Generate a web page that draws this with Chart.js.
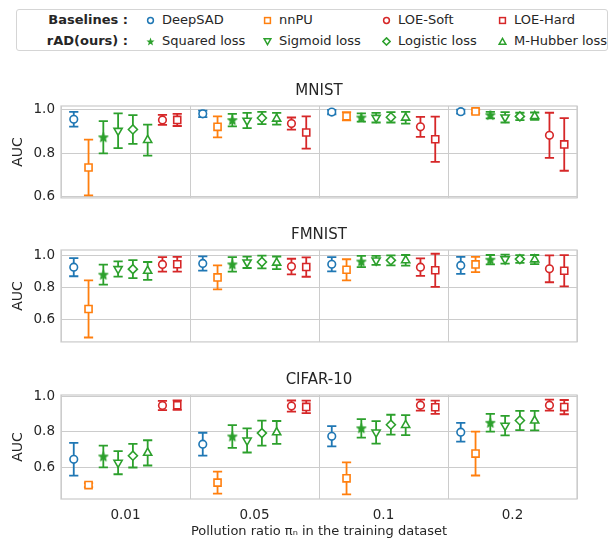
<!DOCTYPE html>
<html>
<head>
<meta charset="utf-8">
<script src="https://cdn.jsdelivr.net/npm/chart.js@4.4.0/dist/chart.umd.min.js"></script>
<style>
  body { margin: 0; background: #fff; width: 610px; height: 539px; position: relative; overflow: hidden;
         font-family: "DejaVu Sans", sans-serif; color: #262626; }
  canvas { position: absolute; left: 0; }
  #legend { position: absolute; left: 16px; top: 9px; width: 592px; height: 42px;
            border: 1px solid #d5d5d5; border-radius: 3px; box-sizing: border-box; }
  .lg { position: absolute; font-size: 13px; line-height: 16px; white-space: nowrap; }
  .hd { font-weight: bold; text-align: right; width: 100px; }
  .mk { position: absolute; width: 9px; height: 9px; }
</style>
</head>
<body>
<div id="legend"></div>
<canvas id="mnist" width="610" height="136" style="top:76px"></canvas>
<canvas id="fmnist" width="610" height="136" style="top:220px"></canvas>
<canvas id="cifar" width="610" height="174" style="top:365px"></canvas>
<script>
const ratios = ['0.01', '0.05', '0.1', '0.2'];
const methods = ['DeepSAD', 'nnPU', 'Squared loss', 'Sigmoid loss', 'Logistic loss', 'M-Hubber loss', 'LOE-Soft', 'LOE-Hard'];
const yTicks = [0.6, 0.8, 1.0];

// mean AUC: one row per method (same order as methods), one column per ratio
const mnistAuc = [
  [0.956, 0.981, 0.989, 0.991],
  [0.734, 0.921, 0.970, 0.992],
  [0.873, 0.952, 0.964, 0.975],
  [0.903, 0.950, 0.963, 0.965],
  [0.909, 0.962, 0.965, 0.969],
  [0.860, 0.958, 0.963, 0.970],
  [0.953, 0.936, 0.921, 0.882],
  [0.953, 0.895, 0.864, 0.840]
];
const mnistStd = [
  [0.034, 0.015, 0.010, 0.009],
  [0.128, 0.048, 0.019, 0.009],
  [0.074, 0.029, 0.019, 0.015],
  [0.080, 0.035, 0.022, 0.024],
  [0.066, 0.028, 0.024, 0.017],
  [0.071, 0.027, 0.027, 0.017],
  [0.023, 0.028, 0.046, 0.104],
  [0.028, 0.074, 0.104, 0.121]
];
const fmnistAuc = [
  [0.925, 0.948, 0.943, 0.936],
  [0.667, 0.862, 0.909, 0.942],
  [0.879, 0.942, 0.960, 0.971],
  [0.914, 0.955, 0.967, 0.975],
  [0.913, 0.957, 0.967, 0.975],
  [0.902, 0.952, 0.967, 0.972],
  [0.942, 0.929, 0.925, 0.915],
  [0.943, 0.926, 0.906, 0.903]
];
const fmnistStd = [
  [0.056, 0.044, 0.044, 0.052],
  [0.176, 0.074, 0.065, 0.047],
  [0.062, 0.045, 0.035, 0.029],
  [0.047, 0.035, 0.028, 0.028],
  [0.055, 0.039, 0.031, 0.024],
  [0.055, 0.039, 0.033, 0.028],
  [0.045, 0.048, 0.054, 0.083],
  [0.045, 0.060, 0.102, 0.096]
];
const cifarAuc = [
  [0.646, 0.731, 0.775, 0.798],
  [0.501, 0.515, 0.539, 0.678],
  [0.662, 0.774, 0.820, 0.851],
  [0.627, 0.752, 0.797, 0.835],
  [0.666, 0.793, 0.840, 0.864],
  [0.682, 0.797, 0.838, 0.863],
  [0.948, 0.945, 0.950, 0.950],
  [0.950, 0.940, 0.938, 0.939]
];
const cifarStd = [
  [0.092, 0.064, 0.057, 0.053],
  [0.011, 0.062, 0.090, 0.123],
  [0.061, 0.064, 0.052, 0.050],
  [0.065, 0.068, 0.063, 0.055],
  [0.066, 0.070, 0.056, 0.054],
  [0.071, 0.064, 0.056, 0.055],
  [0.026, 0.031, 0.031, 0.031],
  [0.027, 0.035, 0.037, 0.040]
];

const BLUE = '#1f77b4', ORANGE = '#ff7f0e', GREEN = '#2ca02c', RED = '#d62728';
const TEXT = '#262626', GRID = '#cccccc';

// filled star marker (Chart.js 'star' is only a stroked asterisk)
function starPoints(cx, cy, ro, ri) {
  const pts = [];
  for (let k = 0; k < 10; k++) {
    const r = k % 2 ? ri : ro;
    const a = -Math.PI / 2 + k * Math.PI / 5;
    pts.push([cx + r * Math.cos(a), cy + r * Math.sin(a)]);
  }
  return pts;
}
const starImg = document.createElement('canvas');
starImg.width = 12; starImg.height = 12;
(function () {
  const c = starImg.getContext('2d');
  c.fillStyle = GREEN; c.strokeStyle = GREEN; c.lineWidth = 1;
  c.beginPath();
  starPoints(6, 6.4, 5, 2.1).forEach((p, k) => k ? c.lineTo(p[0], p[1]) : c.moveTo(p[0], p[1]));
  c.closePath(); c.fill(); c.stroke();
})();

const markers = [
  { color: BLUE,   style: 'circle',   radius: 3.8, rotation: 0 },
  { color: ORANGE, style: 'rect',     radius: 5,   rotation: 0 },
  { color: GREEN,  style: starImg,    radius: 5,   rotation: 0 },
  { color: GREEN,  style: 'triangle', radius: 4.7, rotation: 180 },
  { color: GREEN,  style: 'rectRot',  radius: 4.5, rotation: 0 },
  { color: GREEN,  style: 'triangle', radius: 4.7, rotation: 0 },
  { color: RED,    style: 'circle',   radius: 3.8, rotation: 0 },
  { color: RED,    style: 'rect',     radius: 5,   rotation: 0 }
];
const spread = 0.1146;   // x offset between neighbouring methods inside a group

const errorBars = {
  id: 'errorBars',
  beforeDatasetsDraw(chart) {
    const { ctx, chartArea: a, scales: { x, y } } = chart;
    ctx.save();
    ctx.strokeStyle = GRID;
    ctx.lineWidth = 1.25;
    ctx.strokeRect(a.left, a.top, a.right - a.left, a.bottom - a.top);
    ctx.lineWidth = 1.8;
    chart.data.datasets.forEach(ds => {
      ctx.strokeStyle = ds.borderColor;
      ds.data.forEach(p => {
        const px = x.getPixelForValue(p.x);
        const top = y.getPixelForValue(p.y + p.err);
        const bot = y.getPixelForValue(p.y - p.err);
        ctx.beginPath();
        ctx.moveTo(px, top); ctx.lineTo(px, bot);
        ctx.moveTo(px - 4.6, top); ctx.lineTo(px + 4.6, top);
        ctx.moveTo(px - 4.6, bot); ctx.lineTo(px + 4.6, bot);
        ctx.stroke();
      });
    });
    ctx.restore();
  }
};

function makePanel(id, title, auc, std, yMin, yMax, showX) {
  const datasets = methods.map((m, i) => ({
    label: m,
    data: ratios.map((r, g) => ({ x: g + (i - 3.5) * spread, y: auc[i][g], err: std[i][g] })),
    borderColor: markers[i].color,
    backgroundColor: i === 2 ? GREEN : '#ffffff',
    pointStyle: markers[i].style,
    pointRadius: markers[i].radius,
    pointRotation: markers[i].rotation,
    pointBorderWidth: 1.6
  }));

  new Chart(document.getElementById(id), {
    type: 'scatter',
    data: { datasets },
    plugins: [errorBars],
    options: {
      responsive: false,
      animation: false,
      layout: { padding: { left: 0, right: 33, top: 0, bottom: 0 } },
      plugins: {
        legend: { display: false },
        tooltip: { enabled: false },
        title: {
          display: true, text: title, color: TEXT, fullSize: false,
          font: { family: 'DejaVu Sans', size: 15, weight: 'normal' },
          padding: { top: 6, bottom: 6 }
        }
      },
      scales: {
        x: {
          type: 'linear', min: -0.5, max: 3.5,
          afterBuildTicks: s => { s.ticks = ratios.map((r, g) => ({ value: g })); },
          afterFit: s => { s.height = showX ? 40 : 2; },
          grid: { color: GRID, lineWidth: 1, offset: true, drawTicks: false },
          border: { display: false },
          ticks: {
            display: showX, color: TEXT, padding: 8,
            font: { family: 'DejaVu Sans', size: 13.5 },
            callback: v => ratios[v]
          },
          title: {
            display: showX, text: 'Pollution ratio πₙ in the training dataset', color: TEXT,
            font: { family: 'DejaVu Sans', size: 13 }, padding: { top: 0, bottom: 0 }
          }
        },
        y: {
          min: yMin, max: yMax,
          afterBuildTicks: s => { s.ticks = yTicks.map(v => ({ value: v })); },
          afterFit: s => { s.width = 61; },
          grid: { color: GRID, lineWidth: 1, drawTicks: false },
          border: { display: false },
          ticks: {
            color: TEXT, padding: 6,
            font: { family: 'DejaVu Sans', size: 13.5 },
            callback: v => v.toFixed(1)
          },
          title: {
            display: true, text: 'AUC', color: TEXT,
            font: { family: 'DejaVu Sans', size: 14 }, padding: { top: 10, bottom: 0 }
          }
        }
      }
    }
  });
}

makePanel('mnist', 'MNIST', mnistAuc, mnistStd, 0.594, 1.017, false);
makePanel('fmnist', 'FMNIST', fmnistAuc, fmnistStd, 0.464, 1.031, false);
makePanel('cifar', 'CIFAR-10', cifarAuc, cifarStd, 0.423, 1.007, true);

// legend box: two rows, baselines and rAD losses
function markerSvg(i) {
  const c = markers[i].color;
  let shape;
  if (i === 0 || i === 6) shape = `<circle cx="4.5" cy="4.5" r="2.9" fill="#fff" stroke="${c}" stroke-width="1.5"/>`;
  else if (i === 1 || i === 7) shape = `<rect x="1.6" y="1.6" width="5.8" height="5.8" fill="#fff" stroke="${c}" stroke-width="1.5"/>`;
  else if (i === 2) shape = `<polygon points="${starPoints(4.5, 4.9, 4.3, 1.8).map(p => p.join(',')).join(' ')}" fill="${c}"/>`;
  else if (i === 3) shape = `<polygon points="1.2,1.8 7.8,1.8 4.5,7.6" fill="#fff" stroke="${c}" stroke-width="1.5"/>`;
  else if (i === 4) shape = `<polygon points="4.5,0.9 8.1,4.5 4.5,8.1 0.9,4.5" fill="#fff" stroke="${c}" stroke-width="1.5"/>`;
  else shape = `<polygon points="1.2,7.2 7.8,7.2 4.5,1.4" fill="#fff" stroke="${c}" stroke-width="1.5"/>`;
  return `<svg class="mk" viewBox="0 0 9 9">${shape}</svg>`;
}
const legendRows = [
  { head: 'Baselines :', items: [0, 1, 6, 7], y: 10 },
  { head: 'rAD(ours) :', items: [2, 3, 4, 5], y: 31 }
];
const colX = [133, 250, 369, 485];   // marker centre x inside the box
let html = '';
legendRows.forEach(row => {
  html += `<div class="lg hd" style="left:11px;top:${row.y - 8}px">${row.head}</div>`;
  row.items.forEach((i, k) => {
    html += `<div style="position:absolute;left:${colX[k] - 4.5}px;top:${row.y - 4.5}px">${markerSvg(i)}</div>`;
    html += `<div class="lg" style="left:${colX[k] + 12}px;top:${row.y - 8}px">${methods[i]}</div>`;
  });
});
document.getElementById('legend').innerHTML = html;
</script>
</body>
</html>
